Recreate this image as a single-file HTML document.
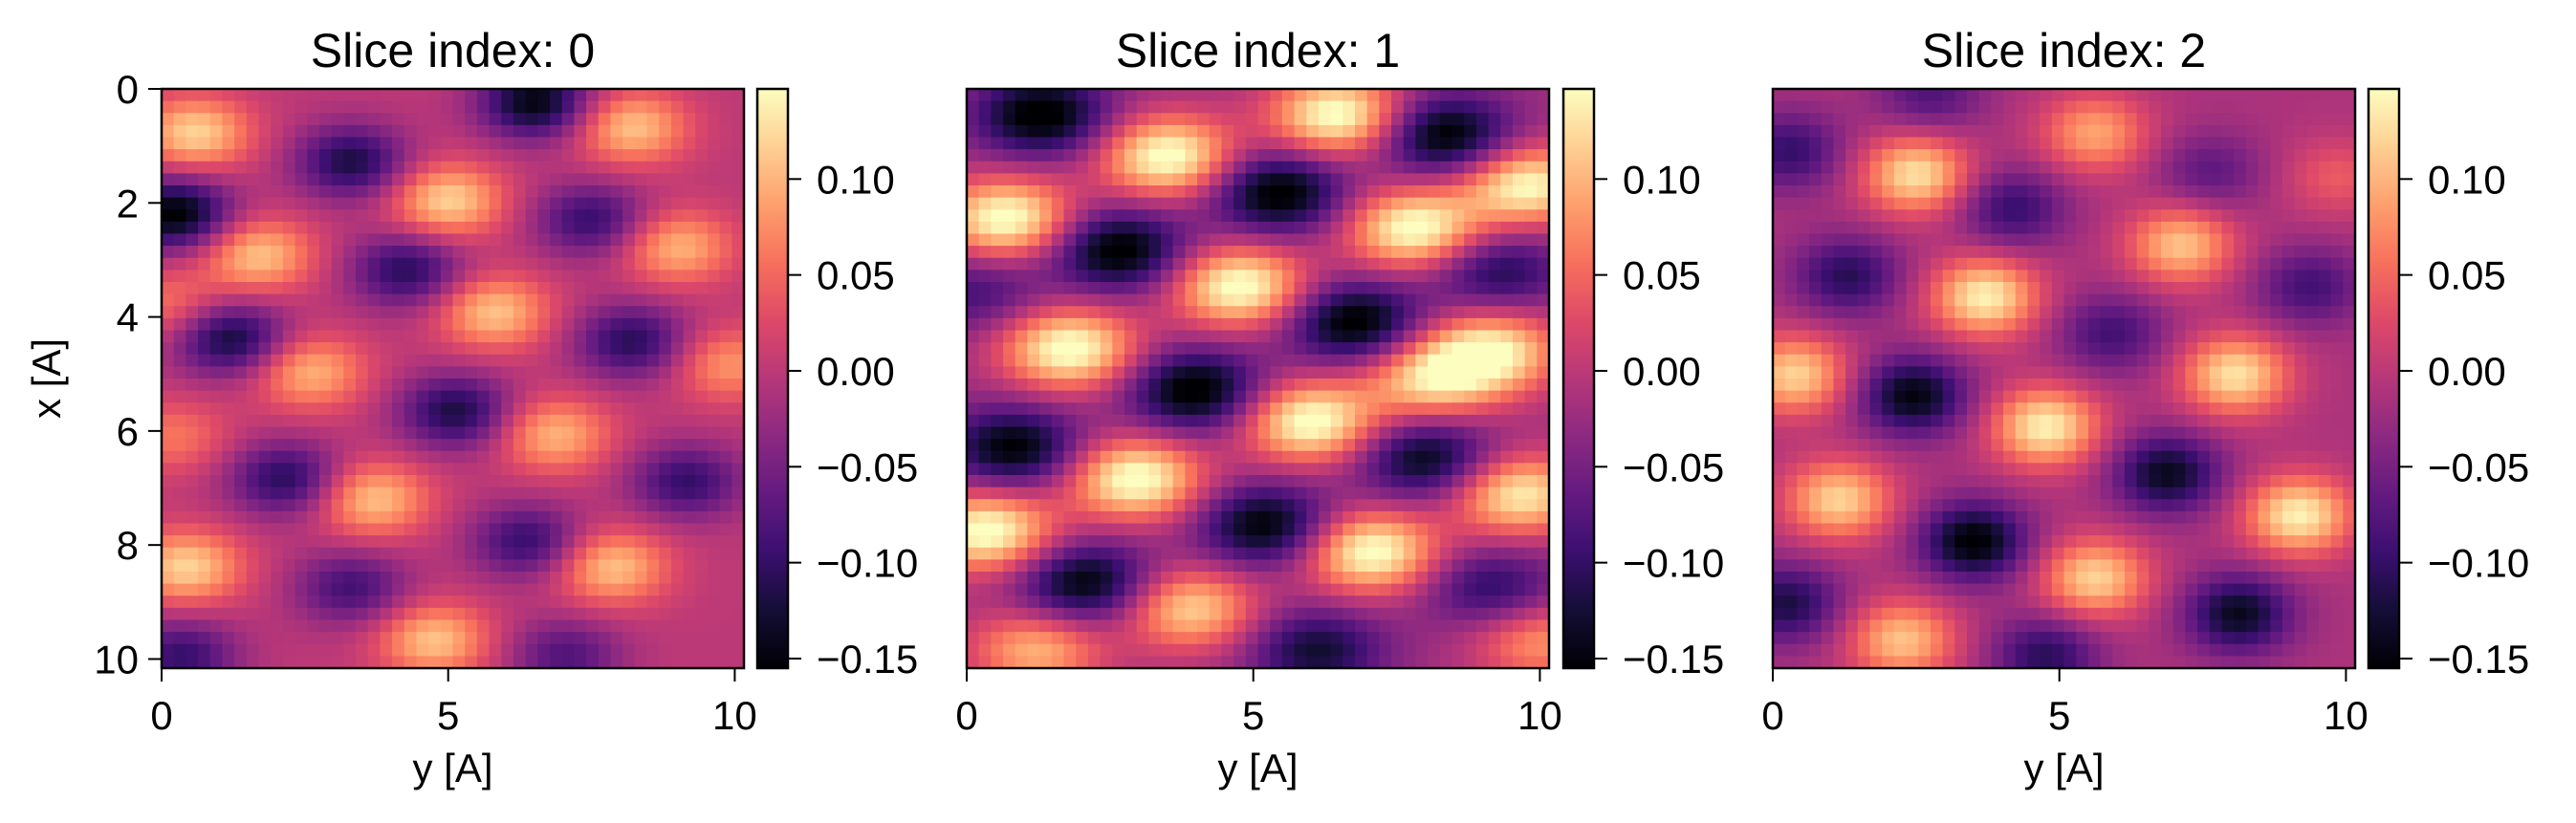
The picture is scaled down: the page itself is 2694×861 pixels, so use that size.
<!DOCTYPE html>
<html><head><meta charset="utf-8"><style>
html,body{margin:0;padding:0;background:#fff;}
svg text{font-family:"Liberation Sans","DejaVu Sans",sans-serif;fill:#000;}
</style></head><body>
<svg id="fig" width="2694" height="856" viewBox="0 0 2694 856" xmlns="http://www.w3.org/2000/svg">
<defs>
<linearGradient id="magma" x1="0" y1="1" x2="0" y2="0">
<stop offset="0" stop-color="#000004"/><stop offset="0.1" stop-color="#140e36"/><stop offset="0.2" stop-color="#3b0f70"/><stop offset="0.3" stop-color="#641a80"/><stop offset="0.4" stop-color="#8c2981"/><stop offset="0.5" stop-color="#b73779"/><stop offset="0.6" stop-color="#de4968"/><stop offset="0.7" stop-color="#f7705c"/><stop offset="0.8" stop-color="#fe9f6d"/><stop offset="0.9" stop-color="#fecf92"/><stop offset="1" stop-color="#fcfdbf"/>
</linearGradient>
</defs>
</svg>
<script>
// ---- data: blob peaks (column = y[A], row = x[A], value) ----
const vmin = -0.155, vmax = 0.147, extent = 10.16, nCells = 48;
const cbTicks = [0.10, 0.05, 0.00, -0.05, -0.10, -0.15];
const cbTickLabels = ["0.10", "0.05", "0.00", "\u22120.05", "\u22120.10", "\u22120.15"];
const xTicks = [0, 5, 10];
const yTicks = [0, 2, 4, 6, 8, 10];
const titles = ["Slice index: 0", "Slice index: 1", "Slice index: 2"];
const bases = [0.0, -0.02, -0.012];

const p0Col = [0.58,4.99,1.68,8.2,9.0,5.8,2.59,9.9,6.86,3.69,0.43,7.86,4.75,0.14,0.2, 6.52,3.31,0.24,4.27,1.2,8.2,5.13,2.16,9.16,6.38,3.31,0.34,7.05,7.5];
const p0Row = [0.78,1.96,2.92,0.68,2.78,3.92,4.97,4.84,6.07,7.2,8.39,8.39,9.67,3.8,6.1, 0.23,1.28,2.19,3.19,4.38,4.43,5.66,6.84,6.89,7.94,8.76,9.95,9.95,2.3];
const p0Val = [0.12,0.12,0.11,0.11,0.10,0.11,0.10,0.08,0.10,0.11,0.12,0.11,0.11,0.06,0.06, -0.15,-0.12,-0.16,-0.11,-0.13,-0.11,-0.12,-0.11,-0.10,-0.10,-0.09,-0.10,-0.08,-0.10];

const p1Col = [6.48,3.51,9.78,0.69,7.82,4.76,1.79,9.16,8.1,6.0,2.94,9.64,0.35,7.05,3.89,1.22,10.0, 1.31,8.34,5.43,2.65,9.25,6.77,3.99,0.83,8.01,5.23,2.08,9.16,6.1,0.16];
const p1Row = [0.46,1.19,1.69,2.28,2.46,3.47,4.56,4.6,5.1,5.84,6.84,7.12,7.76,8.12,9.12,9.85,9.7, 0.46,0.82,1.82,2.83,3.19,4.1,5.29,6.3,6.48,7.66,8.67,8.76,9.85,3.56];
const p1Val = [0.16,0.16,0.15,0.16,0.16,0.16,0.16,0.14,0.12,0.16,0.16,0.14,0.16,0.16,0.12,0.10,0.08, -0.17,-0.17,-0.17,-0.17,-0.12,-0.17,-0.17,-0.16,-0.15,-0.16,-0.16,-0.11,-0.13,-0.09];

const p2Col = [5.62,2.5,7.12,3.7,0.38,8.07,4.76,1.15,9.18,5.62,2.26,9.85, 0.29,4.18,1.3,9.37,5.91,2.45,6.88,3.51,0.24,8.13,4.76,2.74,7.64];
const p2Row = [0.78,1.5,2.74,3.65,5.02,5.02,5.93,7.21,7.48,8.58,9.67,1.55, 1.09,2.1,3.28,3.47,4.29,5.38,6.75,7.94,9.03,9.21,9.95,0.09,1.46];
const p2Val = [0.09,0.13,0.11,0.14,0.12,0.13,0.14,0.12,0.14,0.12,0.11,0.04, -0.10,-0.10,-0.11,-0.09,-0.09,-0.15,-0.14,-0.16,-0.12,-0.14,-0.11,-0.08,-0.07];

const panelCols = [p0Col, p1Col, p2Col];
const panelRows = [p0Row, p1Row, p2Row];
const panelVals = [p0Val, p1Val, p2Val];

// ---- layout ----
const axLeft = [169, 1011, 1854], axW = 609, axTop = 93, axH = 606;
const cbLeft = [792, 1635, 2477], cbW = 32;
const sig = [[0.68,0.45],[0.82,0.5],[0.65,0.48]];
const svg = document.getElementById('fig');
const NS = 'http://www.w3.org/2000/svg';
const stops = [[0,0,0,4],[0.1,20,14,54],[0.2,59,15,112],[0.3,100,26,128],[0.4,140,41,129],[0.5,183,55,121],[0.6,222,73,104],[0.7,247,112,92],[0.8,254,159,109],[0.9,254,207,146],[1,252,253,191]];
function magma(t){t=Math.max(0,Math.min(1,t));for(let i=1;i<stops.length;i++){if(t<=stops[i][0]){const a=stops[i-1],b=stops[i],f=(t-a[0])/(b[0]-a[0]);return 'rgb('+[1,2,3].map(k=>Math.round(a[k]+f*(b[k]-a[k]))).join(',')+')';}}return 'rgb(252,253,191)';}
function el(tag, attrs, parent){const e=document.createElementNS(NS,tag);for(const k in attrs)e.setAttribute(k,attrs[k]);(parent||svg).appendChild(e);return e;}
function txt(s, attrs, parent){const t=el('text',attrs,parent);t.textContent=s;return t;}

for (let p=0;p<3;p++){
  const L=axLeft[p];
  const sx=v=>L+v/extent*axW, sy=v=>axTop+v/extent*axH;
  const cs=v=>axTop+axH-(v-vmin)/(vmax-vmin)*axH;
  const g=el('g',{});
  
  
  const cw=extent/nCells;
  const cols=panelCols[p], rows=panelRows[p], vals=panelVals[p], base=bases[p];
  for(let i=0;i<nCells;i++){for(let j=0;j<nCells;j++){
    const r=(i+0.5)*cw, c=(j+0.5)*cw;
    let v=base;
    for(let k=0;k<vals.length;k++){const dc=c-cols[k], dr=r-rows[k];
      v+=(vals[k]-base)*Math.exp(-(dc*dc/(2*sig[p][0]*sig[p][0])+dr*dr/(2*sig[p][1]*sig[p][1])));}
    const x0=sx(j*cw), y0=sy(i*cw);
    const rect=el('rect',{x:x0.toFixed(2),y:y0.toFixed(2),width:(sx((j+1)*cw)-x0+0.6).toFixed(2),height:(sy((i+1)*cw)-y0+0.6).toFixed(2),fill:magma((v-vmin)/(vmax-vmin))},g);
    
    
  }}
  const fr=el('rect',{x:L,y:axTop,width:axW,height:axH,fill:'none',stroke:'#000','stroke-width':2.5});
  
  
  const tt=txt(titles[p],{x:L+axW/2,y:70,'font-size':50,'text-anchor':'middle'});
  
  
  xTicks.forEach(v=>{
    el('line',{x1:sx(v),x2:sx(v),y1:axTop+axH,y2:axTop+axH+14,stroke:'#000','stroke-width':2});
    const t=txt(String(v),{x:sx(v),y:763,'font-size':42,'text-anchor':'middle'});
    
    
  });
  const xl=txt('y [A]',{x:L+axW/2,y:818,'font-size':42,'text-anchor':'middle'});
  
  
  if(p===0){
    yTicks.forEach(v=>{
      el('line',{x1:L-14,x2:L,y1:sy(v),y2:sy(v),stroke:'#000','stroke-width':2});
      const t=txt(String(v),{x:L-24,y:sy(v)+15,'font-size':42,'text-anchor':'end'});
      
      
    });
    const yl=txt('x [A]',{x:0,y:0,'font-size':42,'text-anchor':'middle',transform:'translate(63,'+(axTop+axH/2)+') rotate(-90)'});
    
    
  }
  const cb=el('rect',{x:cbLeft[p],y:axTop,width:cbW,height:axH,fill:'url(#magma)',stroke:'#000','stroke-width':2.5});
  
  
  cbTicks.forEach((v,k)=>{
    el('line',{x1:cbLeft[p]+cbW,x2:cbLeft[p]+cbW+14,y1:cs(v),y2:cs(v),stroke:'#000','stroke-width':2});
    const t=txt(cbTickLabels[k],{x:cbLeft[p]+cbW+30,y:cs(v)+15,'font-size':42});
    
    
  });
}
</script>
</body></html>
